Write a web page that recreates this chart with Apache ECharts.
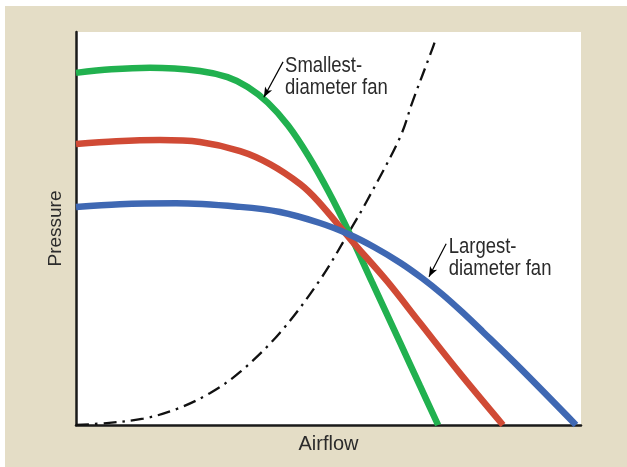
<!DOCTYPE html>
<html>
<head>
<meta charset="utf-8">
<script src="https://cdn.jsdelivr.net/npm/echarts@6/dist/echarts.min.js"></script>
<style>
html,body{margin:0;padding:0;background:#ffffff;}
#bg{position:absolute;left:5px;top:6px;width:622px;height:461px;background:#e4ddc6;}
#chart{position:absolute;left:0;top:0;width:627px;height:467px;}
</style>
</head>
<body>
<div id="bg"></div>
<div id="chart"></div>
<script>
// Axis titles
const xTitle = 'Airflow';
const yTitle = 'Pressure';

// Fan curves: [airflow, pressure] in arbitrary units (0-100)
const smallestFan = [[0,89.6],[7,90.5],[14.65,90.9],[24.55,90.1],[30,88.5],[34,86.0],[38,82.0],[42,76.2],[46,68.5],[50,59.4],[54,49.2],[58.6,36.4],[64.2,20.9],[68.1,10.0],[71.7,0]];
const middleFan = [[0,71.5],[8,72.2],[16.6,72.5],[24.55,72.0],[32.5,69.7],[38.4,66.4],[44.4,61.3],[47.9,57.0],[54.65,46.8],[61.6,36.6],[68.1,26.0],[76.0,13.2],[84.55,0]];
const largestFan = [[0,55.5],[8.7,56.2],[19.8,56.4],[32.5,55.5],[40.4,54.2],[48.3,51.4],[53.9,48.6],[59,45.3],[64.2,41.3],[68.5,37.4],[72.5,33.3],[76.5,28.7],[80.5,23.8],[88,14.4],[99.0,0]];
// System resistance curve
const systemCurve = [[0,0],[6.1,0.5],[13.3,1.6],[20,4.1],[26.5,8.1],[32.5,13.5],[40.4,23.5],[48.3,36.9],[54.3,49.6],[57.6,57.0],[64.2,73.3],[66.7,82.5],[70.5,95.5],[71.3,98.5]];

// Annotations: text anchor [x,y] and arrow [from, to] in data units
const annoSmallText = ['Smallest-', 'diameter fan'];
const annoSmallPos = [41.4, 94.2];
const annoSmallArrow = [[41.0, 92.4], [37.2, 83.4]];
const annoLargeText = ['Largest-', 'diameter fan'];
const annoLargePos = [73.8, 48.2];
const annoLargeArrow = [[73.3, 46.1], [69.9, 37.7]];

const FONT = '"Liberation Sans Narrow","Arial Narrow","Liberation Sans",sans-serif';

const chart = echarts.init(document.getElementById('chart'), null, {renderer: 'canvas'});

function arrowLine(arr) {
  return {
    silent: true,
    symbol: ['none', 'arrow'],
    symbolSize: [6, 10],
    label: {show: false},
    lineStyle: {color: '#000', width: 1.2, type: 'solid'},
    data: [[{coord: arr[0]}, {coord: arr[1]}]]
  };
}

const option = {
  backgroundColor: 'transparent',
  animation: false,
  grid: {left: 76, top: 32, right: 46, bottom: 42, show: true, backgroundColor: '#ffffff', borderWidth: 0},
  xAxis: {
    type: 'value', min: 0, max: 100,
    name: xTitle, nameLocation: 'middle', nameGap: 9,
    nameTextStyle: {fontFamily: FONT, fontSize: 20, color: '#2b2b2b', verticalAlign: 'top'},
    axisLine: {show: true, lineStyle: {color: '#1a1a1a', width: 2.5}},
    axisTick: {show: false}, axisLabel: {show: false}, splitLine: {show: false}
  },
  yAxis: {
    type: 'value', min: 0, max: 100,
    name: yTitle, nameLocation: 'middle', nameGap: 11,
    nameTextStyle: {fontFamily: FONT, fontSize: 19, color: '#2b2b2b'},
    axisLine: {show: true, lineStyle: {color: '#1a1a1a', width: 2.5}},
    axisTick: {show: false}, axisLabel: {show: false}, splitLine: {show: false}
  },
  series: [
    {type: 'line', data: systemCurve, smooth: 0.35, showSymbol: false, z: 1,
     lineStyle: {color: '#111', width: 2.3, type: [13, 6, 2.5, 6]}},
    {type: 'line', data: smallestFan, smooth: 0.35, showSymbol: false, z: 2,
     lineStyle: {color: '#21b14f', width: 6.5, cap: 'butt'},
     markLine: arrowLine(annoSmallArrow)},
    {type: 'line', data: middleFan, smooth: 0.35, showSymbol: false, z: 3,
     lineStyle: {color: '#d04a35', width: 6.5, cap: 'butt'}},
    {type: 'line', data: largestFan, smooth: 0.35, showSymbol: false, z: 4,
     lineStyle: {color: '#3f68b3', width: 6.5, cap: 'butt'},
     markLine: arrowLine(annoLargeArrow)}
  ]
};
chart.setOption(option);

function placeText() {
  const p1 = chart.convertToPixel({gridIndex: 0}, annoSmallPos);
  const p2 = chart.convertToPixel({gridIndex: 0}, annoLargePos);
  const mk = (p, lines) => ({
    type: 'text', x: p[0], y: p[1], z: 10, scaleX: 0.84,
    style: {text: lines.join('\n'), font: '22px ' + FONT, fill: '#2b2b2b', lineHeight: 22, textVerticalAlign: 'top', textAlign: 'left'}
  });
  chart.setOption({graphic: [mk(p1, annoSmallText), mk(p2, annoLargeText)]});
}
placeText();
</script>
</body>
</html>
